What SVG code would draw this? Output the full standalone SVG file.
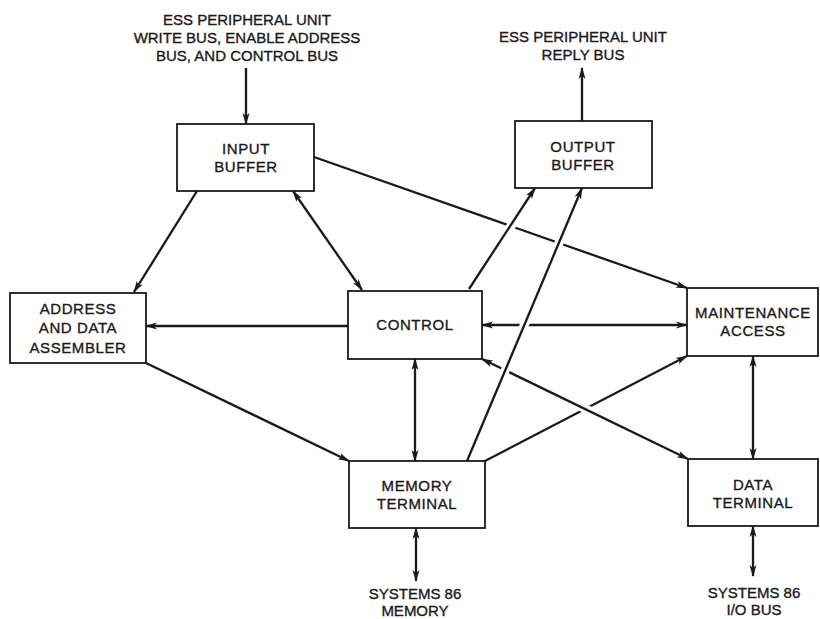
<svg xmlns="http://www.w3.org/2000/svg" width="820" height="619" viewBox="0 0 820 619">
<style>
.box{fill:#fff;stroke:#1a1a1a;stroke-width:1.8}
.t{font-family:"Liberation Sans",Arial,sans-serif;font-size:15px;fill:#1a1a1a;stroke:#1a1a1a;stroke-width:0.35;text-anchor:middle}
.bt{letter-spacing:0.6px}
.ln{stroke:#1a1a1a;stroke-width:2.3;fill:none}
.one{marker-end:url(#ah)}
.two{marker-start:url(#ah);marker-end:url(#ah)}
.halo{stroke:#fff;stroke-width:9;fill:none}
</style>
<defs>
<marker id="ah" viewBox="0 0 12 8" refX="11" refY="4" markerWidth="12" markerHeight="8" markerUnits="userSpaceOnUse" orient="auto-start-reverse">
<path d="M0,0.5 L12,4 L0,7.5 L3,4 z" fill="#1a1a1a"/>
</marker>
</defs>
<rect width="820" height="619" fill="#fff"/>
<g id="labels">
<text class="t" x="247" y="25">ESS PERIPHERAL UNIT</text>
<text class="t" x="247" y="43">WRITE BUS, ENABLE ADDRESS</text>
<text class="t" x="247" y="61">BUS, AND CONTROL BUS</text>
<text class="t" x="583" y="42">ESS PERIPHERAL UNIT</text>
<text class="t" x="583" y="60">REPLY BUS</text>
<text class="t" x="415" y="599">SYSTEMS 86</text>
<text class="t" x="415" y="616">MEMORY</text>
<text class="t" x="754" y="598">SYSTEMS 86</text>
<text class="t" x="754" y="615">I/O BUS</text>
</g>
<g id="connectors">
<line class="ln one" x1="246" y1="68" x2="246" y2="124"/>
<line class="ln one" x1="582" y1="121" x2="582" y2="68"/>
<line class="ln one" x1="197" y1="191" x2="134" y2="292"/>
<line class="ln two" x1="293" y1="191" x2="362" y2="290"/>
<line class="ln one" x1="314" y1="157" x2="687" y2="288"/>
<line class="ln one" x1="348" y1="326" x2="146" y2="326"/>
<line class="ln two" x1="482" y1="325" x2="687" y2="325"/>
<line class="ln one" x1="146" y1="363" x2="349" y2="461"/>
<line class="ln two" x1="415" y1="359" x2="415" y2="461"/>
<line class="ln two" x1="753" y1="356" x2="753" y2="459"/>
<line class="ln one" x1="485" y1="461" x2="687" y2="356"/>
<line class="ln two" x1="416" y1="528" x2="416" y2="581"/>
<line class="ln two" x1="753" y1="526" x2="753" y2="576"/>
<line class="halo" x1="480" y1="273" x2="525" y2="205"/>
<line class="ln one" x1="469" y1="289" x2="535" y2="188"/>
<line class="halo" x1="510" y1="372" x2="670" y2="450"/>
<line class="ln two" x1="482" y1="359" x2="688" y2="459"/>
<line class="halo" x1="474" y1="444" x2="575" y2="205"/>
<line class="ln one" x1="467" y1="461" x2="582" y2="188"/>
</g>
<g id="input-buffer"><rect class="box" x="177" y="124" width="137" height="67"/><text class="t bt" x="246" y="154">INPUT</text><text class="t bt" x="246" y="172">BUFFER</text></g>
<g id="output-buffer"><rect class="box" x="515" y="121" width="137" height="67"/><text class="t bt" x="583" y="152">OUTPUT</text><text class="t bt" x="583" y="170">BUFFER</text></g>
<g id="address-data-assembler"><rect class="box" x="10" y="293" width="136" height="70"/><text class="t bt" x="78" y="314">ADDRESS</text><text class="t bt" x="78" y="333">AND DATA</text><text class="t bt" x="78" y="353">ASSEMBLER</text></g>
<g id="control"><rect class="box" x="348" y="291" width="134" height="68"/><text class="t bt" x="415" y="330">CONTROL</text></g>
<g id="maintenance-access"><rect class="box" x="687" y="288" width="131" height="68"/><text class="t bt" x="753" y="318">MAINTENANCE</text><text class="t bt" x="753" y="336">ACCESS</text></g>
<g id="memory-terminal"><rect class="box" x="349" y="461" width="136" height="67"/><text class="t bt" x="417" y="491">MEMORY</text><text class="t bt" x="417" y="509">TERMINAL</text></g>
<g id="data-terminal"><rect class="box" x="688" y="459" width="130" height="67"/><text class="t bt" x="753" y="490">DATA</text><text class="t bt" x="753" y="508">TERMINAL</text></g>
</svg>
